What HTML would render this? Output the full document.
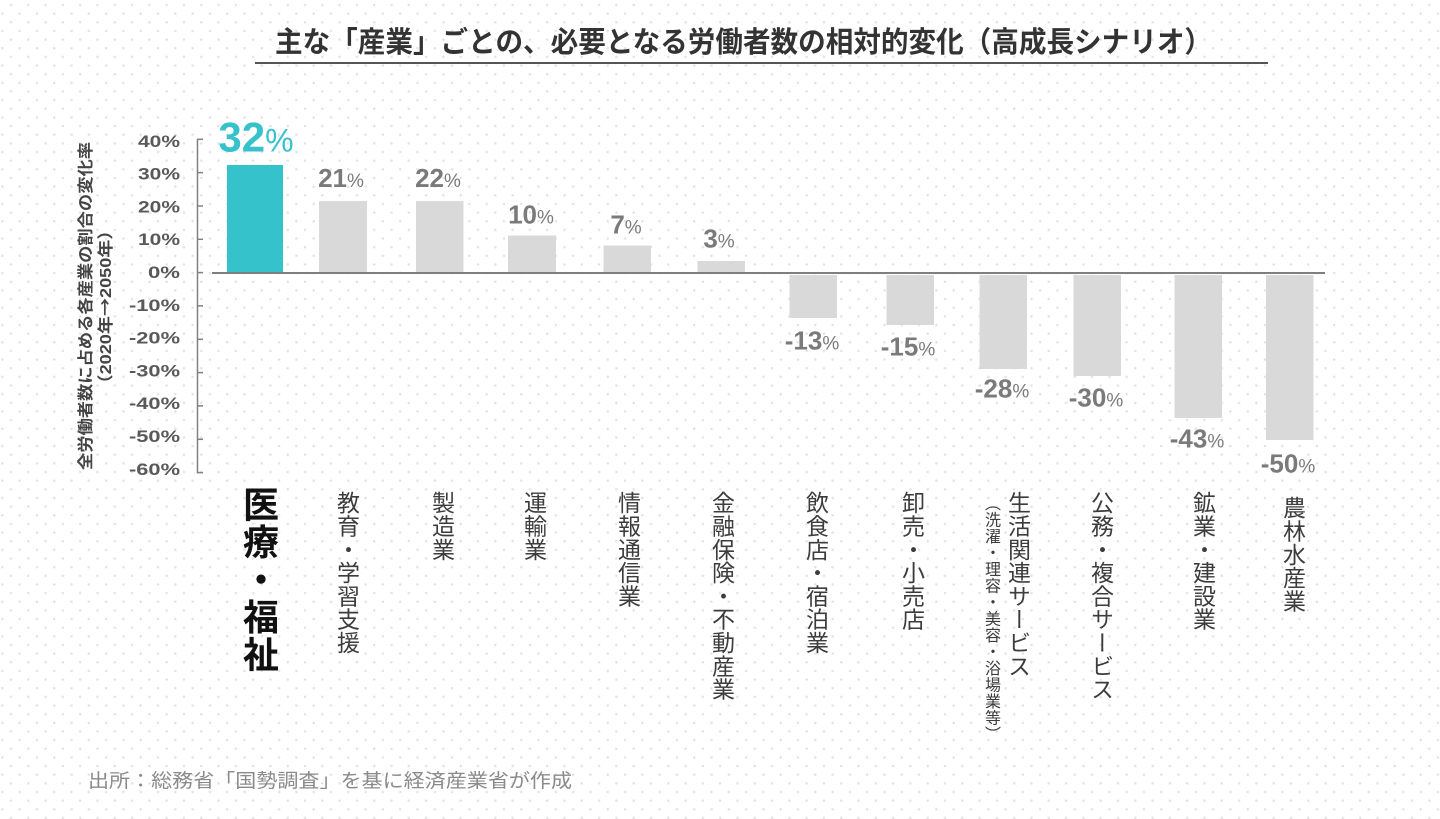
<!DOCTYPE html>
<html>
<head>
<meta charset="utf-8">
<style>
  html, body { margin:0; padding:0; }
  body {
    width:1440px; height:819px; position:relative; overflow:hidden;
    background-color:#ffffff;
    background-image:
      radial-gradient(circle at center, #e2e2e2 0, #e2e2e2 0.9px, rgba(255,255,255,0) 1.6px),
      radial-gradient(circle at center, #e2e2e2 0, #e2e2e2 0.9px, rgba(255,255,255,0) 1.6px);
    background-size:17.3px 17.3px, 17.3px 17.3px;
    background-position:2.35px -3.65px, -6.3px 5px;
    font-family:"Liberation Sans","Noto Sans CJK JP",sans-serif;
  }
  svg { position:absolute; left:0; top:0; }
  .cl {
    position:absolute; writing-mode:vertical-rl;
    font-family:"Liberation Sans","Noto Sans CJK JP",sans-serif;
    font-size:23px; line-height:23px; width:23px;
    color:#3c3c3c; letter-spacing:0.3px; white-space:nowrap;
  }
  .big {
    font-size:36px; line-height:36px; width:36px; font-weight:bold;
    color:#111; letter-spacing:1.4px;
  }
  .sm {
    font-size:16px; line-height:16px; width:16px; letter-spacing:0.5px; color:#3c3c3c;
  }
</style>
</head>
<body>
<svg width="1440" height="819" viewBox="0 0 1440 819" xmlns="http://www.w3.org/2000/svg">
  <!-- Title -->
  <text x="275" y="52" font-family="Liberation Sans, Noto Sans CJK JP, sans-serif" font-size="29" font-weight="bold" fill="#333" textLength="937" lengthAdjust="spacingAndGlyphs">主な「産業」ごとの、必要となる労働者数の相対的変化（高成長シナリオ）</text>
  <line x1="255" y1="63" x2="1268" y2="63" stroke="#555" stroke-width="2"/>

  <!-- Y axis title -->
  <g font-family="Liberation Sans, Noto Sans CJK JP, sans-serif" font-size="16" font-weight="bold" fill="#444">
    <text transform="translate(91,306) rotate(-90)" text-anchor="middle" textLength="328" lengthAdjust="spacingAndGlyphs">全労働者数に占める各産業の割合の変化率</text>
    <text transform="translate(111,307) rotate(-90)" text-anchor="middle" textLength="171" lengthAdjust="spacingAndGlyphs">（2020年<tspan font-family="Noto Sans CJK JP, sans-serif">→</tspan>2050年）</text>
  </g>

  <!-- Y axis -->
  <g stroke="#808080" stroke-width="1.5">
    <line x1="197.5" y1="139" x2="197.5" y2="473.5"/>
    <line x1="197" y1="139.3" x2="203" y2="139.3"/>
    <line x1="197" y1="172.6" x2="203" y2="172.6"/>
    <line x1="197" y1="206" x2="203" y2="206"/>
    <line x1="197" y1="239.3" x2="203" y2="239.3"/>
    <line x1="197" y1="272.6" x2="203" y2="272.6"/>
    <line x1="197" y1="305.9" x2="203" y2="305.9"/>
    <line x1="197" y1="339.3" x2="203" y2="339.3"/>
    <line x1="197" y1="372.6" x2="203" y2="372.6"/>
    <line x1="197" y1="405.9" x2="203" y2="405.9"/>
    <line x1="197" y1="439.3" x2="203" y2="439.3"/>
    <line x1="197" y1="472.6" x2="203" y2="472.6"/>
  </g>

  <!-- Y tick labels -->
  <g font-family="Liberation Sans, sans-serif" font-size="16.5" font-weight="bold" fill="#595959" text-anchor="end">
    <text x="180" y="147" textLength="42" lengthAdjust="spacingAndGlyphs">40%</text>
    <text x="180" y="179.6" textLength="42" lengthAdjust="spacingAndGlyphs">30%</text>
    <text x="180" y="212.4" textLength="42" lengthAdjust="spacingAndGlyphs">20%</text>
    <text x="180" y="245.2" textLength="42" lengthAdjust="spacingAndGlyphs">10%</text>
    <text x="180" y="278" textLength="32" lengthAdjust="spacingAndGlyphs">0%</text>
    <text x="180" y="310.8" textLength="51" lengthAdjust="spacingAndGlyphs">-10%</text>
    <text x="180" y="343.6" textLength="51" lengthAdjust="spacingAndGlyphs">-20%</text>
    <text x="180" y="376.4" textLength="51" lengthAdjust="spacingAndGlyphs">-30%</text>
    <text x="180" y="409.2" textLength="51" lengthAdjust="spacingAndGlyphs">-40%</text>
    <text x="180" y="442" textLength="51" lengthAdjust="spacingAndGlyphs">-50%</text>
    <text x="180" y="474.8" textLength="51" lengthAdjust="spacingAndGlyphs">-60%</text>
  </g>

  <!-- Bars -->
  <rect x="227" y="165" width="56" height="108" fill="#35c2cb"/>
  <g fill="#d9d9d9">
    <rect x="319" y="201" width="48" height="72"/>
    <rect x="416" y="201" width="47.5" height="72"/>
    <rect x="508" y="235.5" width="48" height="37.5"/>
    <rect x="603.5" y="245.5" width="47.5" height="27.5"/>
    <rect x="697.5" y="261" width="47.5" height="12"/>

    <rect x="789.5" y="275" width="47.5" height="43"/>
    <rect x="886.5" y="275" width="47.5" height="50"/>
    <rect x="979.5" y="275" width="47.5" height="94"/>
    <rect x="1073.5" y="275" width="47.5" height="101"/>
    <rect x="1174.5" y="275" width="47.5" height="143"/>
    <rect x="1266" y="275" width="47.5" height="165"/>
  </g>

  <!-- Zero line -->
  <line x1="212" y1="273" x2="1325" y2="273" stroke="#7f7f7f" stroke-width="2"/>

  <!-- Value labels -->
  <text x="256" y="151.7" text-anchor="middle" font-family="Liberation Sans, sans-serif" fill="#35c2cb"><tspan font-size="42" font-weight="bold">32</tspan><tspan font-size="32">%</tspan></text>
  <g font-family="Liberation Sans, sans-serif" fill="#7a7a7a" text-anchor="middle">
    <text x="341" y="187"><tspan font-size="26" font-weight="bold">21</tspan><tspan font-size="19">%</tspan></text>
    <text x="438" y="187"><tspan font-size="26" font-weight="bold">22</tspan><tspan font-size="19">%</tspan></text>
    <text x="531" y="223.5"><tspan font-size="26" font-weight="bold">10</tspan><tspan font-size="19">%</tspan></text>
    <text x="626" y="233.5"><tspan font-size="26" font-weight="bold">7</tspan><tspan font-size="19">%</tspan></text>
    <text x="719" y="247.5"><tspan font-size="26" font-weight="bold">3</tspan><tspan font-size="19">%</tspan></text>

    <text x="812" y="349.5"><tspan font-size="26" font-weight="bold">-13</tspan><tspan font-size="19">%</tspan></text>
    <text x="908" y="355.5"><tspan font-size="26" font-weight="bold">-15</tspan><tspan font-size="19">%</tspan></text>
    <text x="1002" y="397.5"><tspan font-size="26" font-weight="bold">-28</tspan><tspan font-size="19">%</tspan></text>
    <text x="1096" y="406.5"><tspan font-size="26" font-weight="bold">-30</tspan><tspan font-size="19">%</tspan></text>
    <text x="1197" y="447.5"><tspan font-size="26" font-weight="bold">-43</tspan><tspan font-size="19">%</tspan></text>
    <text x="1288" y="472.5"><tspan font-size="26" font-weight="bold">-50</tspan><tspan font-size="19">%</tspan></text>
  </g>

  <!-- Footer -->
  <text x="88" y="787" font-family="Liberation Sans, Noto Sans CJK JP, sans-serif" font-size="19" fill="#8a8a8a" textLength="484" lengthAdjust="spacingAndGlyphs">出所：総務省「国勢調査」を基に経済産業省が作成</text>
</svg>

<!-- Category labels (vertical) -->
<div class="cl big" style="left:240px; top:486px;">医療・福祉</div>
<div class="cl" style="left:334.5px; top:490.5px;">教育・学習支援</div>
<div class="cl" style="left:429.5px; top:490.5px;">製造業</div>
<div class="cl" style="left:521.5px; top:490.5px;">運輸業</div>
<div class="cl" style="left:615.5px; top:490.5px;">情報通信業</div>
<div class="cl" style="left:709.5px; top:490.5px;">金融保険・不動産業</div>
<div class="cl" style="left:803.5px; top:490.5px;">飲食店・宿泊業</div>
<div class="cl" style="left:899.5px; top:490.5px;">卸売・小売店</div>
<div class="cl" style="left:1005.5px; top:490.5px;">生活関連サービス</div>
<div class="cl sm" style="left:982px; top:495px;">（洗濯・理容・美容・浴場業等）</div>
<div class="cl" style="left:1088.5px; top:490.5px;">公務・複合サービス</div>
<div class="cl" style="left:1190.5px; top:490.5px;">鉱業・建設業</div>
<div class="cl" style="left:1280.5px; top:496px;">農林水産業</div>
</body>
</html>
